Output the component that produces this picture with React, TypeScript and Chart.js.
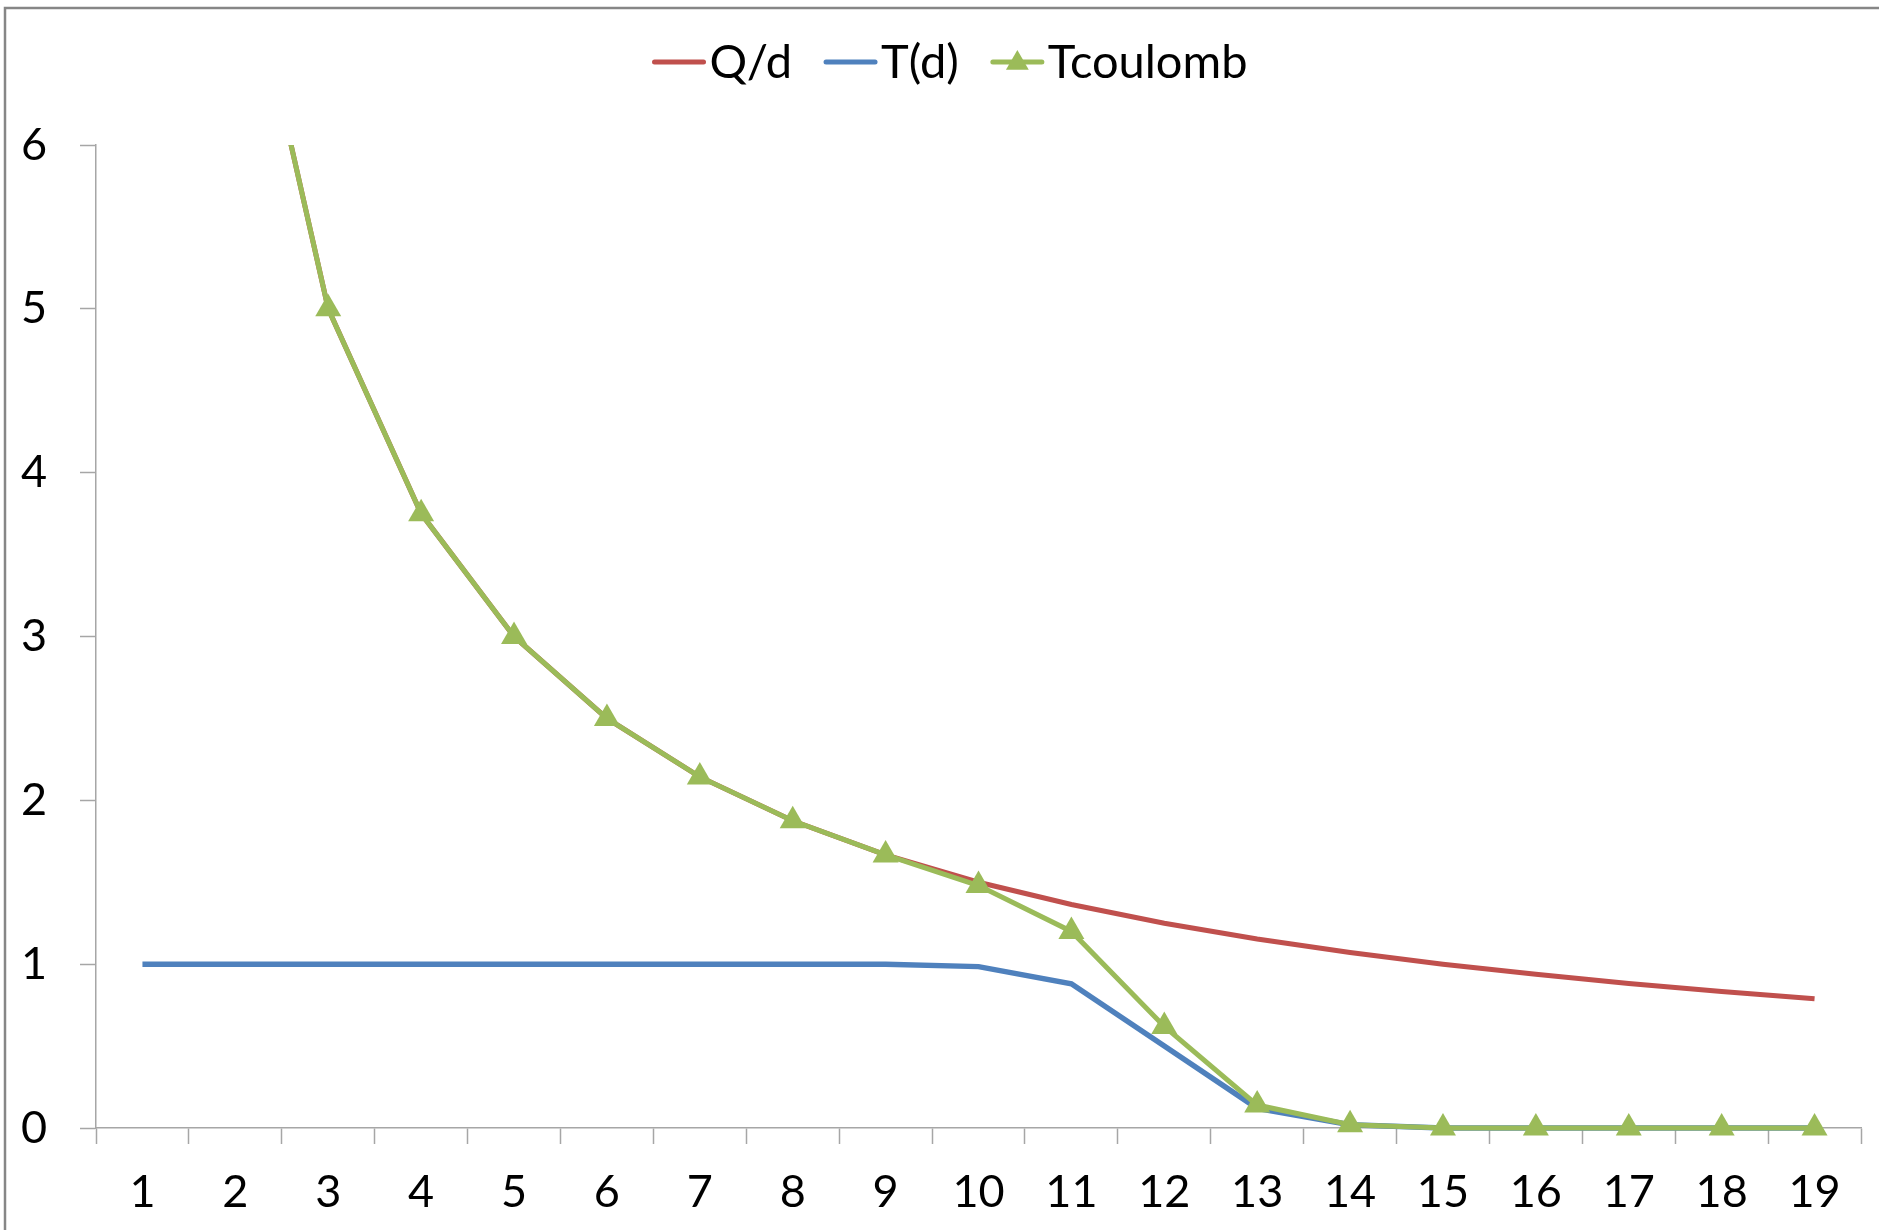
import React, { useEffect, useRef } from 'react';
import { Chart, registerables } from 'chart.js';

Chart.register(...registerables);

const categories = ['1', '2', '3', '4', '5', '6', '7', '8', '9', '10', '11', '12', '13', '14', '15', '16', '17', '18', '19'];
const qOverD = [15, 7.5, 5, 3.75, 3, 2.5, 2.143, 1.875, 1.667, 1.5, 1.364, 1.25, 1.154, 1.071, 1.0, 0.938, 0.882, 0.833, 0.789];
const tOfD = [1, 1, 1, 1, 1, 1, 1, 1, 1, 0.985, 0.88, 0.5, 0.12, 0.02, 0, 0, 0, 0, 0];
const tCoulomb = [15, 7.5, 5, 3.75, 3, 2.5, 2.143, 1.875, 1.667, 1.48, 1.2, 0.62, 0.14, 0.02, 0, 0, 0, 0, 0];
const seriesNames = ['Q/d', 'T(d)', 'Tcoulomb'];
const seriesColors = ['#C0504D', '#4F81BD', '#9BBB59'];
const yMin = 0;
const yMax = 6;
const yStep = 1;

const FONT = 'Lato, "Open Sans", sans-serif';

const frameAndLegend = {
  id: 'frameAndLegend',
  beforeDraw(chart: any) {
    const ctx = chart.ctx;
    ctx.save();
    ctx.fillStyle = '#ffffff';
    ctx.fillRect(0, 0, chart.width, chart.height);
    ctx.strokeStyle = '#868686';
    ctx.lineWidth = 2.5;
    ctx.strokeRect(5, 8, chart.width + 20, chart.height + 20);
    ctx.restore();
  },
  afterDraw(chart: any) {
    const ctx = chart.ctx;
    ctx.save();
    ctx.font = '47px ' + FONT;
    ctx.textBaseline = 'middle';
    const lineW = 53;
    const gap = 4;
    const spacing = 32;
    const items = chart.data.datasets.map((ds: any) => ({
      label: ds.label,
      color: ds.borderColor,
      marker: ds.pointRadius > 0,
    }));
    let total = 0;
    items.forEach((it: any, i: number) => {
      total += lineW + gap + ctx.measureText(it.label).width + (i < items.length - 1 ? spacing : 0);
    });
    let x = 950 - total / 2;
    const y = 62;
    items.forEach((it: any) => {
      ctx.strokeStyle = it.color;
      ctx.lineWidth = 5;
      ctx.lineCap = 'round';
      ctx.beginPath();
      ctx.moveTo(x + 2, y);
      ctx.lineTo(x + lineW - 2, y);
      ctx.stroke();
      if (it.marker) {
        const cx = x + lineW / 2;
        const r = 12;
        ctx.fillStyle = it.color;
        ctx.beginPath();
        ctx.moveTo(cx, y - r);
        ctx.lineTo(cx + r * 0.95, y + r * 0.65);
        ctx.lineTo(cx - r * 0.95, y + r * 0.65);
        ctx.closePath();
        ctx.fill();
      }
      x += lineW + gap;
      ctx.fillStyle = '#000000';
      ctx.fillText(it.label, x, y + 1);
      x += ctx.measureText(it.label).width + spacing;
    });
    ctx.restore();
  },
};

export default function App() {
  const canvasRef = useRef<HTMLCanvasElement | null>(null);

  useEffect(() => {
    if (!canvasRef.current) return;
    const clip = { left: 20, right: 20, top: 0, bottom: 20 } as any;
    const chart = new Chart(canvasRef.current, {
      type: 'line',
      data: {
        labels: categories,
        datasets: [
          {
            label: seriesNames[0],
            data: qOverD,
            borderColor: seriesColors[0],
            backgroundColor: seriesColors[0],
            borderWidth: 5,
            pointRadius: 0,
            tension: 0,
            order: 2,
            clip,
          },
          {
            label: seriesNames[1],
            data: tOfD,
            borderColor: seriesColors[1],
            backgroundColor: seriesColors[1],
            borderWidth: 5.5,
            pointRadius: 0,
            tension: 0,
            order: 1,
            clip,
          },
          {
            label: seriesNames[2],
            data: tCoulomb,
            borderColor: seriesColors[2],
            backgroundColor: seriesColors[2],
            borderWidth: 5,
            pointStyle: 'triangle',
            pointRadius: 15,
            pointBorderWidth: 0,
            pointBackgroundColor: seriesColors[2],
            tension: 0,
            order: 0,
            clip,
          },
        ],
      },
      options: {
        responsive: false,
        animation: false,
        events: [],
        layout: { padding: { top: 145, left: 0, right: 18, bottom: 0 } },
        plugins: {
          legend: { display: false },
          tooltip: { enabled: false },
        },
        scales: {
          x: {
            type: 'category',
            offset: true,
            grid: {
              offset: true,
              drawOnChartArea: false,
              drawTicks: true,
              tickLength: 16,
              tickWidth: 1.5,
              tickColor: '#a6a6a6',
            },
            border: { display: true, color: '#a6a6a6', width: 1.5 },
            ticks: {
              color: '#000000',
              font: { family: FONT, size: 45 },
              padding: 21,
              maxRotation: 0,
              autoSkip: false,
            },
            afterFit(scale: any) {
              scale.height = 102;
            },
          },
          y: {
            min: yMin,
            max: yMax,
            grid: {
              drawOnChartArea: false,
              drawTicks: true,
              tickLength: 16,
              tickWidth: 1.5,
              tickColor: '#a6a6a6',
            },
            border: { display: true, color: '#a6a6a6', width: 1.5 },
            ticks: {
              stepSize: yStep,
              color: '#000000',
              font: { family: FONT, size: 45 },
              padding: 33,
            },
            afterFit(scale: any) {
              scale.width = 96;
            },
          },
        },
      },
      plugins: [frameAndLegend],
    });
    return () => chart.destroy();
  }, []);

  return (
    <div style={{ position: 'fixed', left: 0, top: 0, width: 1879, height: 1230, background: '#fff' }}>
      <canvas ref={canvasRef} width={1879} height={1230} style={{ display: 'block' }} />
    </div>
  );
}
